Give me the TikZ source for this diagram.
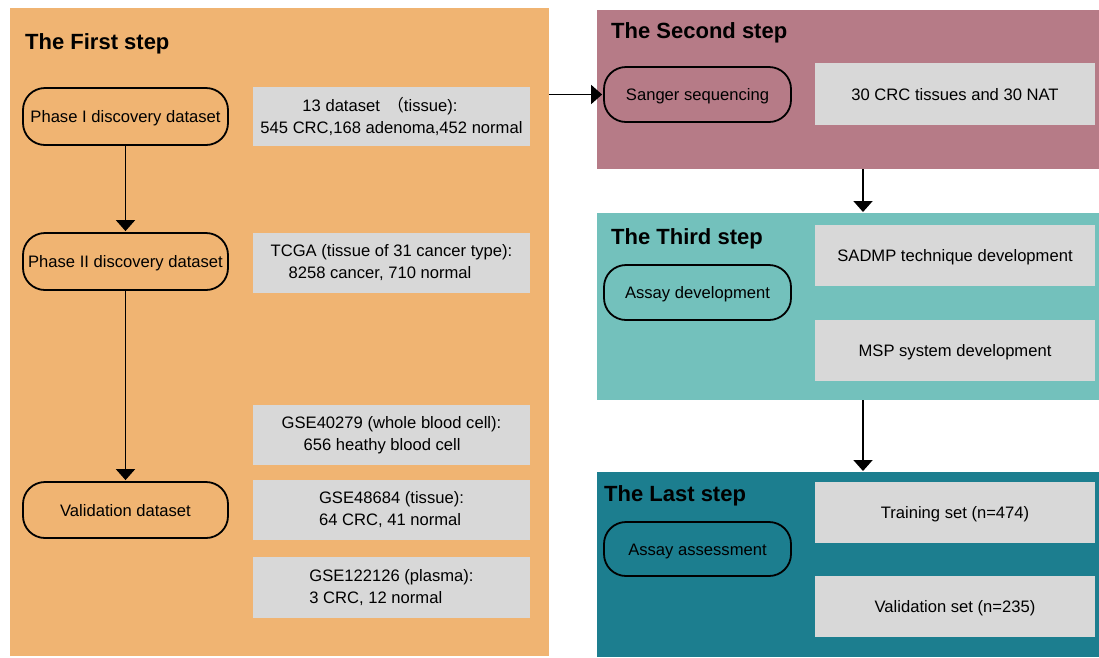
\documentclass[tikz,border=0pt]{standalone}
\usepackage{fontspec}
\setmainfont{Liberation Sans}
\newfontfamily\cjk{Noto Sans CJK SC}
\usetikzlibrary{arrows.meta}
\definecolor{orangeP}{RGB}{240,180,114}
\definecolor{mauveP}{RGB}{182,123,135}
\definecolor{tealP}{RGB}{115,193,188}
\definecolor{darkP}{RGB}{28,126,143}
\definecolor{grayB}{RGB}{216,216,216}
\begin{document}
\begin{tikzpicture}[x=1pt,y=-1pt,
  panel/.style={draw=none,inner sep=0pt,outer sep=0pt,anchor=north west},
  title/.style={anchor=west,inner sep=0pt,font=\fontsize{22}{26}\selectfont\bfseries},
  oneline/.style={text height=15.5pt,text depth=3.5pt},
  stepnode/.style={draw=black,line width=1.8pt,rounded corners=22pt,inner sep=0pt,
    oneline,font=\fontsize{16.6}{22}\selectfont},
  infobox/.style={fill=grayB,draw=none,inner sep=0pt,minimum width=277pt,
    font=\fontsize{16.6}{22}\selectfont},
  rbox/.style={infobox,oneline,minimum width=280pt},
  arr/.style={line width=1.8pt,shorten >=1pt,-{Triangle[width=19pt,length=11pt]}}
]
\useasboundingbox (0,0) rectangle (1099,657);
% panels
\node[panel,fill=orangeP,minimum width=539pt,minimum height=648pt] (p1) at (10,8) {};
\node[panel,fill=mauveP,minimum width=502pt,minimum height=159pt] (p2) at (597,10) {};
\node[panel,fill=tealP,minimum width=502pt,minimum height=187pt] (p3) at (597,213) {};
\node[panel,fill=darkP,minimum width=502pt,minimum height=185pt] (p4) at (597,472) {};
% titles
\node[title] (t1) at (25,43.5) {The First step};
\node[title] (t2) at (611,32.5) {The Second step};
\node[title] (t3) at (611,238.5) {The Third step};
\node[title] (t4) at (604,495.5) {The Last step};
% first step nodes
\node[stepnode,minimum width=205pt,minimum height=57pt] (ph1) at (125.5,116.5) {Phase I discovery dataset};
\node[stepnode,minimum width=205pt,minimum height=57pt] (ph2) at (125.5,261.5) {Phase II discovery dataset};
\node[stepnode,minimum width=205pt,minimum height=56pt] (val) at (125.5,510) {Validation dataset};
\node[infobox,minimum height=59pt,align=left] (b1) at (391.5,116.5) {\hspace*{42pt}13 dataset\ \,{\cjk （}tissue):\\545 CRC,168 adenoma,452 normal};
\node[infobox,minimum height=60pt,align=left] (b2) at (391.5,263) {TCGA (tissue of 31 cancer type):\\\hspace*{18pt}8258 cancer, 710 normal};
\node[infobox,minimum height=60pt,align=left] (b3) at (391.5,435) {GSE40279 (whole blood cell):\\\hspace*{22pt}656 heathy blood cell};
\node[infobox,minimum height=60pt,align=left] (b4) at (391.5,510) {GSE48684 (tissue):\\64 CRC, 41 normal};
\node[infobox,minimum height=61pt,align=left] (b5) at (391.5,587.5) {GSE122126 (plasma):\\3 CRC, 12 normal};
% right side nodes
\node[stepnode,minimum width=187pt,minimum height=55pt] (sang) at (697.5,94.5) {Sanger sequencing};
\node[stepnode,minimum width=187pt,minimum height=55pt] (adev) at (697.5,292.5) {Assay development};
\node[stepnode,minimum width=187pt,minimum height=54pt] (aass) at (697.5,549) {Assay assessment};
\node[rbox,minimum height=62pt] (r1) at (955,94) {30 CRC tissues and 30 NAT};
\node[rbox,minimum height=61pt] (r2) at (955,255.5) {SADMP technique development};
\node[rbox,minimum height=61pt] (r3) at (955,350.5) {MSP system development};
\node[rbox,minimum height=61pt] (r4) at (955,512.5) {Training set (n=474)};
\node[rbox,minimum height=61pt] (r5) at (955,606.5) {Validation set (n=235)};
% arrows
\draw[arr] (ph1.south) -- (ph2.north);
\draw[arr] (ph2.south) -- (val.north);
\draw[arr] (p1.east |- sang.west) -- (sang.west);
\draw[arr] ([xshift=15pt]p2.south) -- ([xshift=15pt]p3.north);
\draw[arr] ([xshift=15pt]p3.south) -- ([xshift=15pt]p4.north);
\end{tikzpicture}
\end{document}
